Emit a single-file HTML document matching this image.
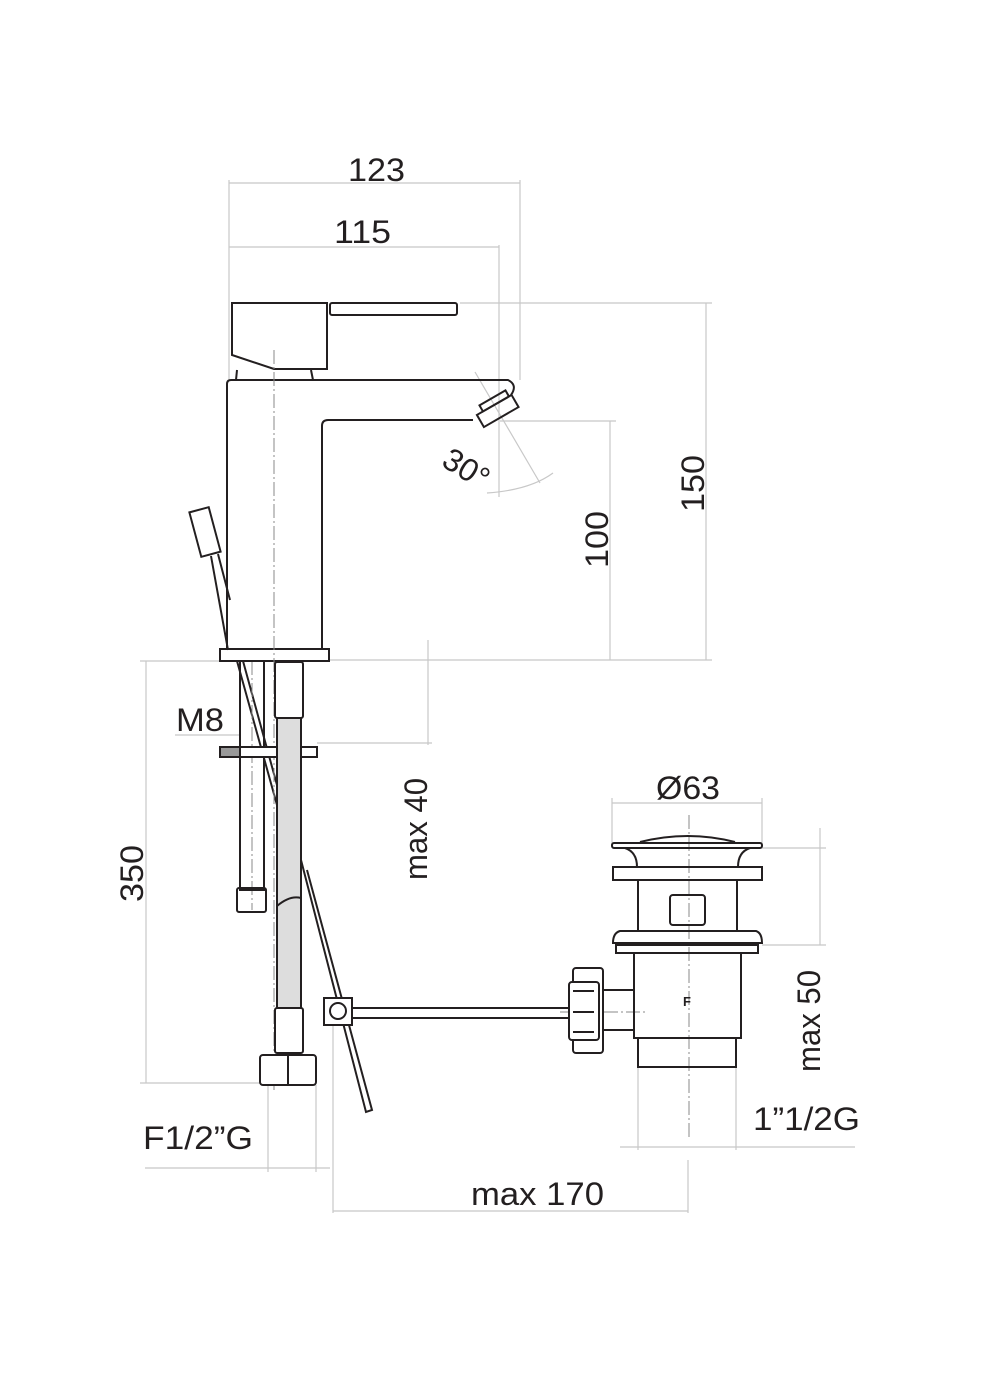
<!DOCTYPE html>
<html><head><meta charset="utf-8"><style>
html,body{margin:0;padding:0;background:#fff}
svg{display:block}
text{font-family:"Liberation Sans",sans-serif;fill:#231f20;font-size:32px}
.d{stroke:#c8c8c8;stroke-width:1.2;fill:none}
.k{stroke:#231f20;stroke-width:2;fill:none}
.c{stroke:#888;stroke-width:1;fill:none;stroke-dasharray:14 3 2 3}
</style></head><body>
<svg width="993" height="1385" viewBox="0 0 993 1385" xmlns="http://www.w3.org/2000/svg">
<g class="d">
<line x1="229" y1="180" x2="229" y2="380"/><line x1="520" y1="180" x2="520" y2="380"/>
<line x1="229" y1="183" x2="520" y2="183"/>
<line x1="499" y1="245" x2="499" y2="420"/>
<line x1="229" y1="247" x2="499" y2="247"/>
<line x1="460" y1="303" x2="712" y2="303"/>
<line x1="706" y1="303" x2="706" y2="660"/>
<line x1="500" y1="421" x2="616" y2="421"/>
<line x1="610" y1="421" x2="610" y2="660"/>
<line x1="330" y1="660" x2="712" y2="660"/>
<line x1="140" y1="661" x2="220" y2="661"/>
<line x1="146" y1="661" x2="146" y2="1083"/>
<line x1="140" y1="1083" x2="260" y2="1083"/>
<line x1="428" y1="640" x2="428" y2="745"/>
<line x1="317" y1="743" x2="432" y2="743"/>
<line x1="175" y1="735" x2="240" y2="735"/>
<line x1="612" y1="803" x2="762" y2="803"/>
<line x1="612" y1="798" x2="612" y2="843"/><line x1="762" y1="798" x2="762" y2="843"/>
<line x1="762" y1="848" x2="826" y2="848"/>
<line x1="762" y1="945" x2="826" y2="945"/>
<line x1="820" y1="828" x2="820" y2="945"/>
<line x1="620" y1="1147" x2="855" y2="1147"/>
<line x1="638" y1="1067" x2="638" y2="1150"/><line x1="736" y1="1067" x2="736" y2="1150"/>
<line x1="333" y1="1010" x2="333" y2="1213"/><line x1="688" y1="1160" x2="688" y2="1213"/>
<line x1="333" y1="1211" x2="688" y2="1211"/>
<line x1="145" y1="1168" x2="330" y2="1168"/>
<line x1="268" y1="1085" x2="268" y2="1172"/><line x1="316" y1="1085" x2="316" y2="1172"/>
<path d="M475 372 L540 483"/>
<path d="M487 493 Q530 490 553 473"/>
<line x1="499" y1="420" x2="499" y2="497"/>
</g>
<g class="k">
<rect x="220" y="649" width="109" height="12"/>
<path d="M227 650 V384 Q227 380 231 380 H508 Q518 385 511 395"/>
<path d="M322 650 V426 Q322 420 328 420 H473"/>
<path d="M236 380 L237 370 M311 370 L313 380"/>
<path d="M232 303 V355 L274 369 H327 V303 Z"/>
<rect x="330" y="303" width="127" height="12" rx="2"/>
<g transform="rotate(-30 496 412)"><rect x="478" y="405" width="40" height="14"/><rect x="485" y="398" width="30" height="7"/></g>
<g transform="rotate(-15 205 532)"><rect x="195" y="509" width="20" height="46"/></g>
<path d="M211 556 L228 650 M218 554 L230 600"/>
<path d="M301 860 L366 1112 L372 1110 L307 870"/>
<path d="M237 661 L277 805 M243 661 L277 785"/>
</g>
<g class="c">
<line x1="274" y1="350" x2="274" y2="1090"/>
<line x1="252" y1="661" x2="252" y2="910"/>
<line x1="689" y1="815" x2="689" y2="1140"/>
<line x1="560" y1="1012" x2="645" y2="1012"/>
</g>
<g class="k">
<rect x="240" y="661" width="24" height="96"/>
<rect x="240" y="757" width="24" height="133"/>
<rect x="237" y="888" width="29" height="24" rx="2"/>
<rect x="220" y="747" width="97" height="10" fill="#fff"/>
<rect x="220" y="747" width="20" height="10" fill="#999"/>
<rect x="277" y="718" width="24" height="292" fill="#ddd"/>
<rect x="275" y="662" width="28" height="56" fill="#fff" rx="2"/>
<rect x="275" y="1008" width="28" height="45" fill="#fff" rx="2"/>
<rect x="260" y="1055" width="56" height="30" rx="3" fill="#fff"/>
<line x1="288" y1="1055" x2="288" y2="1085"/>
<path d="M277 906 Q290 895 301 898"/>
<path d="M352 1008 H570 M352 1018 H570"/>
<rect x="324" y="998" width="28" height="27" fill="#fff"/>
<circle cx="338" cy="1011" r="8"/>
</g>
<g class="k">
<path d="M640 842 Q688 830 735 842"/>
<rect x="612" y="843" width="150" height="5" rx="2"/>
<path d="M625 848 Q637 852 637 867 M750 848 Q738 852 738 867"/>
<rect x="613" y="867" width="149" height="13"/>
<path d="M638 880 V930 M737 880 V930"/>
<rect x="670" y="895" width="35" height="30" rx="3"/>
<path d="M620 931 H756 Q762 933 762 943 H613 Q613 933 620 931 Z"/>
<rect x="616" y="945" width="142" height="8"/>
<path d="M634 953 H741 V1038 H634 Z"/>
<rect x="638" y="1038" width="98" height="29"/>
<path d="M602 990 H634 M602 1030 H634"/>
<rect x="573" y="968" width="30" height="85" rx="3" fill="#fff"/>
<rect x="569" y="982" width="30" height="58" rx="3" fill="#fff"/>
<path d="M573 991 H594 M573 1012 H594 M573 1032 H594"/>
</g>
<text x="683" y="1006" style="font-size:13px;font-weight:bold">F</text>
<text x="348" y="181" textLength="57" lengthAdjust="spacingAndGlyphs">123</text>
<text x="334" y="243" textLength="57" lengthAdjust="spacingAndGlyphs">115</text>
<text transform="translate(704 512) rotate(-90)" textLength="57" lengthAdjust="spacingAndGlyphs">150</text>
<text transform="translate(608 568) rotate(-90)" textLength="57" lengthAdjust="spacingAndGlyphs">100</text>
<text transform="translate(143 902) rotate(-90)" textLength="57" lengthAdjust="spacingAndGlyphs">350</text>
<text transform="translate(427 880) rotate(-90)" textLength="102" lengthAdjust="spacingAndGlyphs">max 40</text>
<text transform="translate(820 1072) rotate(-90)" textLength="102" lengthAdjust="spacingAndGlyphs">max 50</text>
<text transform="translate(440 465) rotate(32)">30°</text>
<text x="176" y="731" textLength="48" lengthAdjust="spacingAndGlyphs">M8</text>
<text x="656" y="799" textLength="64" lengthAdjust="spacingAndGlyphs">Ø63</text>
<text x="753" y="1130" textLength="107" lengthAdjust="spacingAndGlyphs">1”1/2G</text>
<text x="143" y="1149" textLength="110" lengthAdjust="spacingAndGlyphs">F1/2”G</text>
<text x="471" y="1205" textLength="133" lengthAdjust="spacingAndGlyphs">max 170</text>
</svg>
</body></html>
